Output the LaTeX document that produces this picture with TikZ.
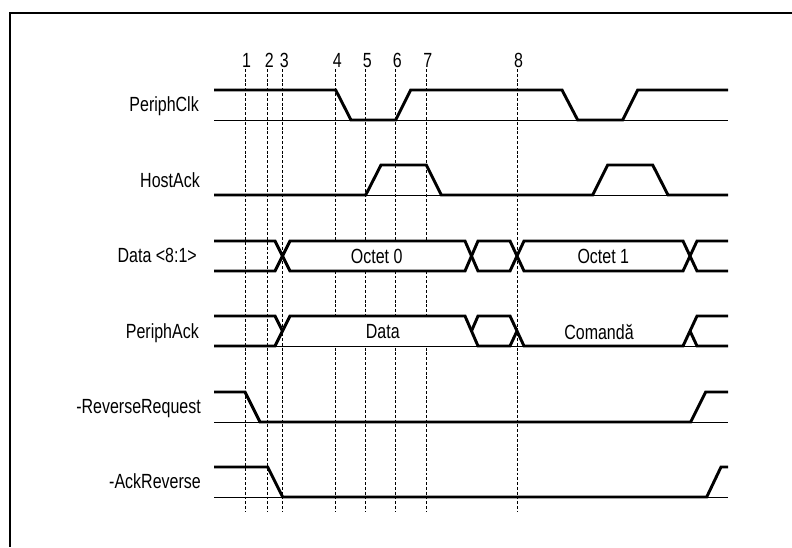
\documentclass[tikz,border=0pt]{standalone}
\usepackage{fontspec}
\setmainfont{Liberation Sans}[FakeStretch=0.78]
\usetikzlibrary{positioning}

\begin{document}
\begin{tikzpicture}[x=0.03cm,y=-0.03cm,
  sig/.style={line width=2.5pt,line join=miter},
  base/.style={line width=0.7pt},
  tick/.style={line width=0.8pt,dash pattern=on 2.5pt off 1.6pt},
  lbl/.style={anchor=base east,inner sep=0pt,font=\fontsize{17.5}{20}\selectfont},
  num/.style={anchor=base,inner sep=0pt,font=\fontsize{17.5}{20}\selectfont},
  val/.style={anchor=base,inner sep=0pt,font=\fontsize{17.5}{20}\selectfont}]
  \useasboundingbox (0,0) rectangle (792,547);
  \draw[line width=1.6pt] (792,13) -- (10,13) -- (10,547);

  % time marks
  \foreach \n/\x in {1/245,2/267.7,3/282.7,4/335.7,5/365.7,6/395.7,7/426.3,8/517}{
    \node[num] (t\n) at (\x+1.5,67.5) {\n};
    \coordinate (b\n) at (\x,512);
    \draw[tick] (\x,69) -- (b\n);
  }

  % signal names
  \node[lbl] (clk) at (199,111.5) {PeriphClk};
  \node[lbl] (hack) at (200,187) {HostAck};
  \node[lbl] (data) at (197,262.5) {Data <8:1>};
  \node[lbl] (pack) at (199,338) {PeriphAck};
  \node[lbl] (rreq) at (201,413) {-ReverseRequest};
  \node[lbl] (arev) at (201,488) {-AckReverse};

  % PeriphClk
  \draw[base] (214,120) -- (728,120);
  \draw[sig] (214,90) -- (335.7,90) -- (351,120) -- (395.7,120) -- (410.7,90)
    -- (562,90) -- (577.7,120) -- (622.7,120) -- (637.7,90) -- (728,90);

  % HostAck
  \draw[base] (214,195) -- (728,195);
  \draw[sig] (214,195) -- (365.7,195) -- (381,165) -- (426.3,165) -- (441.3,195)
    -- (592.7,195) -- (607.7,165) -- (652.7,165) -- (668,195) -- (728,195);

  % Data <8:1>
  \fill[white] (282.5,256) -- (290,241) -- (465,241) -- (471.5,256) -- (465,271)
    -- (290,271) -- cycle;
  \draw[sig] (214,241) -- (275,241) -- (290,271) -- (465,271) -- (478,241)
    -- (510,241) -- (524,271) -- (683,271) -- (697,241) -- (728,241);
  \draw[sig] (214,271) -- (275,271) -- (290,241) -- (465,241) -- (478,271)
    -- (510,271) -- (524,241) -- (683,241) -- (697,271) -- (728,271);
  \node[val] (oct0) at (376.7,263) {Octet 0};
  \node[val] (oct1) at (603.3,263) {Octet 1};

  % PeriphAck
  \fill[white] (290,316) -- (465,316) -- (478,346) -- (285,346) -- cycle;
  \draw[base] (214,346) -- (728,346);
  \draw[sig] (214,316) -- (275,316) -- (282.5,331);
  \draw[sig] (214,346) -- (275,346) -- (290,316) -- (465,316) -- (478,346)
    -- (510,346) -- (517,331);
  \draw[sig] (471.5,331) -- (478,316) -- (510,316) -- (524,346) -- (683,346)
    -- (697,316) -- (728,316);
  \draw[sig] (690,331) -- (697,346) -- (728,346);
  \node[val] (dval) at (382.8,338.5) {Data};
  \node[val] (cmd) at (599,339) {Comandă};

  % -ReverseRequest
  \draw[base] (214,422) -- (728,422);
  \draw[sig] (214,392) -- (245,392) -- (260,422) -- (690.7,422) -- (705.7,392)
    -- (728,392);

  % -AckReverse
  \draw[base] (214,497) -- (728,497);
  \draw[sig] (214,467) -- (267.7,467) -- (282.7,497) -- (706.7,497) -- (721,467)
    -- (728,467);
\end{tikzpicture}
\end{document}
